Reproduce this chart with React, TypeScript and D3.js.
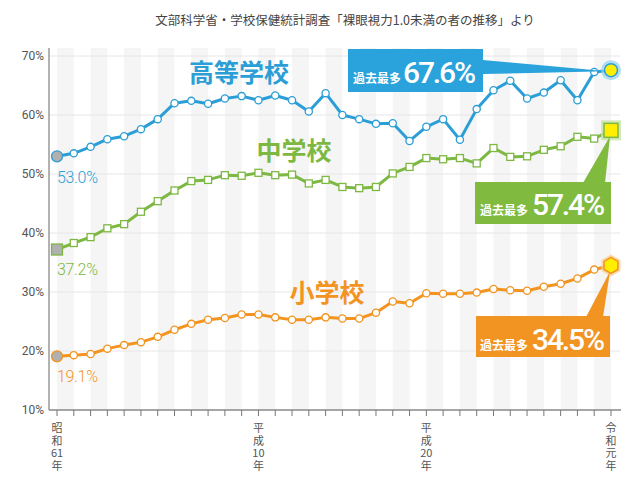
import React from "react";
import * as d3 from "d3";

const years = d3.range(34);
const highSchool = [53.0, 53.5, 54.6, 55.9, 56.4, 57.6, 59.3, 62.0, 62.4, 61.9, 62.8, 63.2, 62.5, 63.3, 62.5, 60.6, 63.7, 60.0, 59.3, 58.5, 58.6, 55.6, 58.0, 59.3, 55.8, 61.0, 64.2, 65.8, 62.8, 63.8, 65.9, 62.5, 67.3, 67.6];
const middleSchool = [37.2, 38.3, 39.3, 40.8, 41.5, 43.6, 45.4, 47.2, 48.8, 49.0, 49.8, 49.7, 50.2, 49.8, 49.9, 48.4, 49.0, 47.8, 47.6, 47.8, 50.1, 51.2, 52.7, 52.5, 52.7, 51.8, 54.4, 52.9, 53.0, 54.1, 54.7, 56.3, 56.0, 57.4];
const elementary = [19.1, 19.3, 19.5, 20.4, 21.0, 21.5, 22.4, 23.6, 24.6, 25.3, 25.6, 26.2, 26.2, 25.7, 25.3, 25.3, 25.7, 25.5, 25.5, 26.5, 28.4, 28.1, 29.8, 29.7, 29.7, 29.9, 30.5, 30.3, 30.2, 30.9, 31.4, 32.3, 33.8, 34.5];
const yTicks = [10, 20, 30, 40, 50, 60, 70];
const xLabels: [number, string[]][] = [
  [0, ["昭", "和", "61", "年"]],
  [12, ["平", "成", "10", "年"]],
  [22, ["平", "成", "20", "年"]],
  [33, ["令", "和", "元", "年"]],
];
const title = "文部科学省・学校保健統計調査「裸眼視力1.0未満の者の推移」より";

const JP = "'Noto Sans CJK JP', 'Noto Sans', sans-serif";
const NUM = "Roboto, 'Noto Sans', sans-serif";

const x = d3.scaleLinear().domain([0, 33]).range([57, 611]);
const y = d3.scaleLinear().domain([10, 70]).range([410, 56]);

const line = d3
  .line<number>()
  .x((_, i) => x(i))
  .y((d) => y(d));

function hexPath(cx: number, cy: number, r: number) {
  const pts = d3.range(6).map((k) => {
    const a = (Math.PI / 3) * k - Math.PI / 2;
    return [cx + r * Math.cos(a), cy + r * Math.sin(a)];
  });
  return "M" + pts.map((p) => p.join(",")).join("L") + "Z";
}

type Series = {
  data: number[];
  color: string;
  box: string;
  glow: string;
  shape: "circle" | "square" | "hex";
};

const series: Series[] = [
  { data: highSchool, color: "#2b9ed6", box: "#2aa3dc", glow: "#9fd6f2", shape: "circle" },
  { data: middleSchool, color: "#7db843", box: "#80bb40", glow: "#c9e3a6", shape: "square" },
  { data: elementary, color: "#f2941f", box: "#f29422", glow: "#f9cf95", shape: "hex" },
];

function Marker({ s, i, v }: { s: Series; i: number; v: number }) {
  const cx = x(i);
  const cy = y(v);
  const last = i === s.data.length - 1;
  const first = i === 0;
  if (last) {
    if (s.shape === "circle")
      return (
        <g>
          <circle cx={cx} cy={cy} r={10} fill={s.glow} opacity={0.8} />
          <circle cx={cx} cy={cy} r={6.5} fill="#ffee00" stroke={s.color} strokeWidth={1.5} />
        </g>
      );
    if (s.shape === "square")
      return (
        <g>
          <rect x={cx - 10} y={cy - 10} width={20} height={20} fill={s.glow} opacity={0.8} />
          <rect x={cx - 7} y={cy - 7} width={14} height={14} fill="#ffee00" stroke={s.color} strokeWidth={1.5} />
        </g>
      );
    return (
      <g>
        <path d={hexPath(cx, cy, 11)} fill={s.glow} opacity={0.8} />
        <path d={hexPath(cx, cy, 8)} fill="#ffee00" stroke={s.color} strokeWidth={1.5} />
      </g>
    );
  }
  const fill = first ? "#b0b0b0" : "#ffffff";
  if (s.shape === "square") {
    const h = first ? 5.5 : 3.5;
    return <rect x={cx - h} y={cy - h} width={h * 2} height={h * 2} fill={fill} stroke={s.color} strokeWidth={1.3} />;
  }
  return <circle cx={cx} cy={cy} r={first ? 5.5 : 3.6} fill={fill} stroke={s.color} strokeWidth={1.3} />;
}

export default function App() {
  const bands = years.filter((i) => i % 2 === 0 && i < 33);
  return (
    <svg width={640} height={480} style={{ position: "absolute", left: 0, top: 0, background: "#fff" }}>
      <rect width={640} height={480} fill="#ffffff" />
      {bands.map((i) => (
        <rect key={i} x={x(i)} y={48} width={x(i + 1) - x(i)} height={410 - 48} fill="#f5f5f5" />
      ))}
      <text x={345} y={25} textAnchor="middle" fontFamily={JP} fontSize={12.5} fill="#444">
        {title}
      </text>
      {yTicks.slice(1).map((t) => (
        <line key={t} x1={49} x2={620} y1={y(t)} y2={y(t)} stroke="#e6e6e6" strokeWidth={1} />
      ))}
      {yTicks.map((t) => (
        <text key={t} x={44} y={y(t) + 4} textAnchor="end" fontFamily={NUM} fontSize={12} fill="#555">
          {t}%
        </text>
      ))}
      <line x1={49} x2={49} y1={48} y2={410} stroke="#999" strokeWidth={1.5} />
      <line x1={49} x2={621} y1={410} y2={410} stroke="#888" strokeWidth={1.5} />
      {years.map((i) => (
        <line key={i} x1={x(i)} x2={x(i)} y1={410} y2={416} stroke="#777" strokeWidth={1} />
      ))}
      {xLabels.map(([i, parts]) => (
        <text key={i} textAnchor="middle" fontFamily={JP} fontSize={11} fill="#555">
          {parts.map((p, k) => (
            <tspan key={k} x={x(i)} y={432 + k * 12.5}>
              {p}
            </tspan>
          ))}
        </text>
      ))}

      {series.map((s, si) => (
        <g key={si}>
          <path d={line(s.data) || ""} fill="none" stroke={s.color} strokeWidth={3} strokeLinejoin="round" />
          {s.data.map((v, i) => (
            <Marker key={i} s={s} i={i} v={v} />
          ))}
        </g>
      ))}

      {/* series names */}
      <text x={239} y={82} textAnchor="middle" fontFamily={JP} fontWeight={700} fontSize={25} fill="#2b9ed6">高等学校</text>
      <text x={294} y={160} textAnchor="middle" fontFamily={JP} fontWeight={700} fontSize={25} fill="#7db843">中学校</text>
      <text x={327} y={302} textAnchor="middle" fontFamily={JP} fontWeight={700} fontSize={25} fill="#f2941f">小学校</text>

      {/* start value labels */}
      <text x={57} y={y(highSchool[0]) + 27} fontFamily={NUM} fontWeight={300} fontSize={16} fill="#2b9ed6" textLength={41}>53.0%</text>
      <text x={57} y={y(middleSchool[0]) + 25} fontFamily={NUM} fontWeight={300} fontSize={16} fill="#7db843" textLength={41}>37.2%</text>
      <text x={57} y={y(elementary[0]) + 26} fontFamily={NUM} fontWeight={300} fontSize={16} fill="#f2941f" textLength={41}>19.1%</text>

      {/* callouts */}
      <path d={`M483,60 L483,74 L${x(33) - 4},${y(67.6) + 1} Z`} fill="#2aa3dc" />
      <rect x={348} y={49} width={135} height={43} fill="#2aa3dc" />
      <text x={353} y={83} fontFamily={JP} fontWeight={700} fontSize={12} fill="#fff">過去最多</text>
      <text x={403} y={83} fontFamily={NUM} fontWeight={500} fontSize={30} fill="#fff" textLength={73}>67.6%</text>

      <path d={`M583,183 L605,183 L${x(33) - 1},${y(57.4) + 6} Z`} fill="#80bb40" />
      <rect x={475} y={182} width={136} height={42} fill="#80bb40" />
      <text x={480} y={215} fontFamily={JP} fontWeight={700} fontSize={12} fill="#fff">過去最多</text>
      <text x={532} y={215} fontFamily={NUM} fontWeight={500} fontSize={30} fill="#fff" textLength={73}>57.4%</text>

      <path d={`M586,317 L603,317 L${x(33) - 1},${y(34.5) + 6} Z`} fill="#f29422" />
      <rect x={476} y={316} width={134} height={41} fill="#f29422" />
      <text x={480} y={350} fontFamily={JP} fontWeight={700} fontSize={12} fill="#fff">過去最多</text>
      <text x={532} y={350} fontFamily={NUM} fontWeight={500} fontSize={30} fill="#fff" textLength={73}>34.5%</text>
    </svg>
  );
}
